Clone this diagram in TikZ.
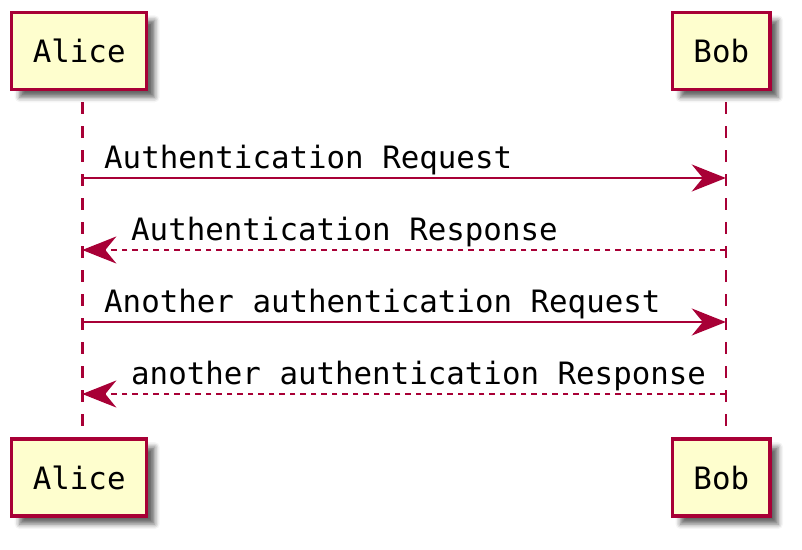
\documentclass[tikz,border=0pt]{standalone}
\usepackage{fontspec}
\setmonofont{DejaVu Sans Mono}
\usetikzlibrary{arrows.meta,shadows.blur}
\definecolor{pumlred}{HTML}{A80036}
\definecolor{pumlfill}{HTML}{FEFECE}
\tikzset{
  participant/.style={draw=pumlred, fill=pumlfill, line width=3.3pt,
    minimum width=#1, minimum height=77pt, inner sep=0pt,
    font=\ttfamily\fontsize{30.8}{36}\selectfont,
    blur shadow={shadow xshift=8pt, shadow yshift=-8pt, shadow blur radius=5pt, shadow opacity=60}},
  lifeline/.style={draw=pumlred, line width=2.4pt, dash pattern=on 12pt off 12pt, dash phase=12pt},
  msg/.style={draw=pumlred, line width=2.5pt, -{Stealth[length=34pt, width=27pt, inset=11pt]}},
  reply/.style={msg, dash pattern=on 5.5pt off 5pt},
  msglabel/.style={anchor=base west, inner sep=0pt, font=\ttfamily\fontsize{30.8}{36}\selectfont}
}
\begin{document}
\begin{tikzpicture}[x=1pt,y=-1pt]
\useasboundingbox (0,0) rectangle (802,549);
% lifelines
\coordinate (aT) at (82.3,90);
\coordinate (aB) at (82.3,439);
\coordinate (bT) at (725.8,90);
\coordinate (bB) at (725.8,439);
\draw[lifeline] (aT) -- (aB);
\draw[lifeline] (bT) -- (bB);
% participants
\node[participant=135pt] (aliceTop) at (79.2,50.8) {Alice};
\node[participant=97.5pt] (bobTop) at (721.3,50.8) {Bob};
\node[participant=135pt] (aliceBot) at (79.2,477.6) {Alice};
\node[participant=97.5pt] (bobBot) at (721.3,477.6) {Bob};
% messages
\coordinate (a1) at (82.3,178);
\coordinate (b1) at (725.8,178);
\coordinate (a2) at (82.3,250);
\coordinate (b2) at (725.8,250);
\coordinate (a3) at (82.3,322);
\coordinate (b3) at (725.8,322);
\coordinate (a4) at (82.3,394);
\coordinate (b4) at (725.8,394);
\draw[msg] (a1) -- (b1);
\draw[reply] (b2) -- (a2);
\draw[msg] (a3) -- (b3);
\draw[reply] (b4) -- (a4);
\node[msglabel] (l1) at (104,168) {Authentication Request};
\node[msglabel] (l2) at (131,240) {Authentication Response};
\node[msglabel] (l3) at (104,312) {Another authentication Request};
\node[msglabel] (l4) at (131,384) {another authentication Response};
\end{tikzpicture}
\end{document}
